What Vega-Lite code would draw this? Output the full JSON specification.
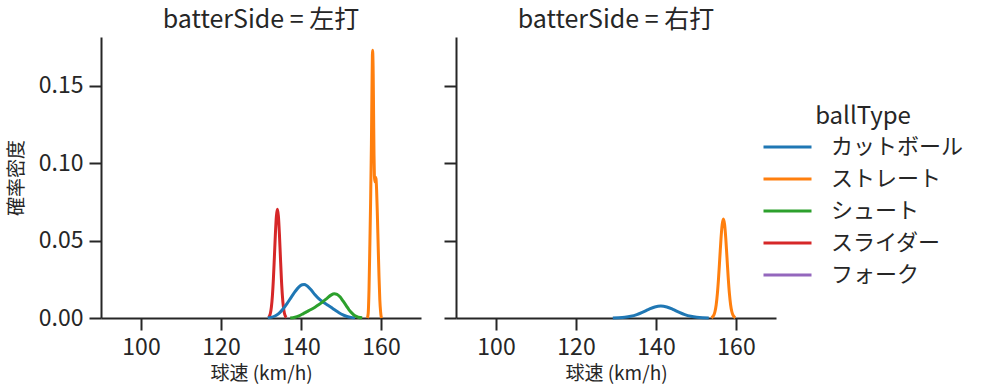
{
  "$schema": "https://vega.github.io/schema/vega-lite/v6.json",
  "padding": {"left": 7, "top": 8, "right": 5, "bottom": 5},
  "datasets": {
    "kde": [
      {"batterSide": "左打", "ballType": "スライダー", "speed": 131.85, "density": 0.0004},
      {"batterSide": "左打", "ballType": "スライダー", "speed": 132.1, "density": 0.0012},
      {"batterSide": "左打", "ballType": "スライダー", "speed": 132.35, "density": 0.0031},
      {"batterSide": "左打", "ballType": "スライダー", "speed": 132.6, "density": 0.0071},
      {"batterSide": "左打", "ballType": "スライダー", "speed": 132.85, "density": 0.0143},
      {"batterSide": "左打", "ballType": "スライダー", "speed": 133.1, "density": 0.0253},
      {"batterSide": "左打", "ballType": "スライダー", "speed": 133.35, "density": 0.0396},
      {"batterSide": "左打", "ballType": "スライダー", "speed": 133.6, "density": 0.0545},
      {"batterSide": "左打", "ballType": "スライダー", "speed": 133.85, "density": 0.0659},
      {"batterSide": "左打", "ballType": "スライダー", "speed": 134.1, "density": 0.0703},
      {"batterSide": "左打", "ballType": "スライダー", "speed": 134.35, "density": 0.0659},
      {"batterSide": "左打", "ballType": "スライダー", "speed": 134.6, "density": 0.0545},
      {"batterSide": "左打", "ballType": "スライダー", "speed": 134.85, "density": 0.0396},
      {"batterSide": "左打", "ballType": "スライダー", "speed": 135.1, "density": 0.0253},
      {"batterSide": "左打", "ballType": "スライダー", "speed": 135.35, "density": 0.0143},
      {"batterSide": "左打", "ballType": "スライダー", "speed": 135.6, "density": 0.0071},
      {"batterSide": "左打", "ballType": "スライダー", "speed": 135.85, "density": 0.0031},
      {"batterSide": "左打", "ballType": "スライダー", "speed": 136.1, "density": 0.0012},
      {"batterSide": "左打", "ballType": "スライダー", "speed": 136.35, "density": 0.0004},

      {"batterSide": "左打", "ballType": "ストレート", "speed": 156.6, "density": 0.0},
      {"batterSide": "左打", "ballType": "ストレート", "speed": 156.8, "density": 0.003},
      {"batterSide": "左打", "ballType": "ストレート", "speed": 157.0, "density": 0.018},
      {"batterSide": "左打", "ballType": "ストレート", "speed": 157.2, "density": 0.045},
      {"batterSide": "左打", "ballType": "ストレート", "speed": 157.4, "density": 0.075},
      {"batterSide": "左打", "ballType": "ストレート", "speed": 157.6, "density": 0.112},
      {"batterSide": "左打", "ballType": "ストレート", "speed": 157.75, "density": 0.15},
      {"batterSide": "左打", "ballType": "ストレート", "speed": 157.85, "density": 0.17},
      {"batterSide": "左打", "ballType": "ストレート", "speed": 157.9, "density": 0.173},
      {"batterSide": "左打", "ballType": "ストレート", "speed": 157.95, "density": 0.171},
      {"batterSide": "左打", "ballType": "ストレート", "speed": 158.05, "density": 0.158},
      {"batterSide": "左打", "ballType": "ストレート", "speed": 158.15, "density": 0.132},
      {"batterSide": "左打", "ballType": "ストレート", "speed": 158.25, "density": 0.106},
      {"batterSide": "左打", "ballType": "ストレート", "speed": 158.35, "density": 0.092},
      {"batterSide": "左打", "ballType": "ストレート", "speed": 158.45, "density": 0.088},
      {"batterSide": "左打", "ballType": "ストレート", "speed": 158.55, "density": 0.089},
      {"batterSide": "左打", "ballType": "ストレート", "speed": 158.65, "density": 0.091},
      {"batterSide": "左打", "ballType": "ストレート", "speed": 158.75, "density": 0.09},
      {"batterSide": "左打", "ballType": "ストレート", "speed": 158.9, "density": 0.083},
      {"batterSide": "左打", "ballType": "ストレート", "speed": 159.1, "density": 0.066},
      {"batterSide": "左打", "ballType": "ストレート", "speed": 159.3, "density": 0.046},
      {"batterSide": "左打", "ballType": "ストレート", "speed": 159.5, "density": 0.027},
      {"batterSide": "左打", "ballType": "ストレート", "speed": 159.7, "density": 0.012},
      {"batterSide": "左打", "ballType": "ストレート", "speed": 159.9, "density": 0.004},
      {"batterSide": "左打", "ballType": "ストレート", "speed": 160.1, "density": 0.0},

      {"batterSide": "左打", "ballType": "カットボール", "speed": 131.7, "density": 0.0001},
      {"batterSide": "左打", "ballType": "カットボール", "speed": 132.5, "density": 0.0004},
      {"batterSide": "左打", "ballType": "カットボール", "speed": 133.5, "density": 0.0013},
      {"batterSide": "左打", "ballType": "カットボール", "speed": 134.5, "density": 0.003},
      {"batterSide": "左打", "ballType": "カットボール", "speed": 135.5, "density": 0.0058},
      {"batterSide": "左打", "ballType": "カットボール", "speed": 136.5, "density": 0.0093},
      {"batterSide": "左打", "ballType": "カットボール", "speed": 137.5, "density": 0.0132},
      {"batterSide": "左打", "ballType": "カットボール", "speed": 138.5, "density": 0.017},
      {"batterSide": "左打", "ballType": "カットボール", "speed": 139.5, "density": 0.0201},
      {"batterSide": "左打", "ballType": "カットボール", "speed": 140.3, "density": 0.0215},
      {"batterSide": "左打", "ballType": "カットボール", "speed": 140.8, "density": 0.0217},
      {"batterSide": "左打", "ballType": "カットボール", "speed": 141.5, "density": 0.0208},
      {"batterSide": "左打", "ballType": "カットボール", "speed": 142.5, "density": 0.0182},
      {"batterSide": "左打", "ballType": "カットボール", "speed": 143.5, "density": 0.015},
      {"batterSide": "左打", "ballType": "カットボール", "speed": 144.5, "density": 0.0123},
      {"batterSide": "左打", "ballType": "カットボール", "speed": 145.5, "density": 0.0103},
      {"batterSide": "左打", "ballType": "カットボール", "speed": 146.5, "density": 0.0086},
      {"batterSide": "左打", "ballType": "カットボール", "speed": 147.5, "density": 0.0069},
      {"batterSide": "左打", "ballType": "カットボール", "speed": 148.5, "density": 0.0051},
      {"batterSide": "左打", "ballType": "カットボール", "speed": 149.5, "density": 0.0034},
      {"batterSide": "左打", "ballType": "カットボール", "speed": 150.5, "density": 0.002},
      {"batterSide": "左打", "ballType": "カットボール", "speed": 151.5, "density": 0.001},
      {"batterSide": "左打", "ballType": "カットボール", "speed": 152.5, "density": 0.0004},
      {"batterSide": "左打", "ballType": "カットボール", "speed": 153.5, "density": 0.0001},

      {"batterSide": "左打", "ballType": "シュート", "speed": 137.3, "density": 0.0},
      {"batterSide": "左打", "ballType": "シュート", "speed": 138.5, "density": 0.0005},
      {"batterSide": "左打", "ballType": "シュート", "speed": 139.5, "density": 0.0014},
      {"batterSide": "左打", "ballType": "シュート", "speed": 140.5, "density": 0.0027},
      {"batterSide": "左打", "ballType": "シュート", "speed": 141.5, "density": 0.0041},
      {"batterSide": "左打", "ballType": "シュート", "speed": 142.5, "density": 0.0055},
      {"batterSide": "左打", "ballType": "シュート", "speed": 143.5, "density": 0.007},
      {"batterSide": "左打", "ballType": "シュート", "speed": 144.5, "density": 0.0087},
      {"batterSide": "左打", "ballType": "シュート", "speed": 145.5, "density": 0.0106},
      {"batterSide": "左打", "ballType": "シュート", "speed": 146.5, "density": 0.0127},
      {"batterSide": "左打", "ballType": "シュート", "speed": 147.5, "density": 0.0148},
      {"batterSide": "左打", "ballType": "シュート", "speed": 148.3, "density": 0.0157},
      {"batterSide": "左打", "ballType": "シュート", "speed": 149.0, "density": 0.0153},
      {"batterSide": "左打", "ballType": "シュート", "speed": 149.8, "density": 0.0135},
      {"batterSide": "左打", "ballType": "シュート", "speed": 150.5, "density": 0.011},
      {"batterSide": "左打", "ballType": "シュート", "speed": 151.3, "density": 0.008},
      {"batterSide": "左打", "ballType": "シュート", "speed": 152.0, "density": 0.0053},
      {"batterSide": "左打", "ballType": "シュート", "speed": 152.8, "density": 0.003},
      {"batterSide": "左打", "ballType": "シュート", "speed": 153.5, "density": 0.0014},
      {"batterSide": "左打", "ballType": "シュート", "speed": 154.3, "density": 0.0005},
      {"batterSide": "左打", "ballType": "シュート", "speed": 155.3, "density": 0.0001},

      {"batterSide": "右打", "ballType": "カットボール", "speed": 129.2, "density": 0.00005},
      {"batterSide": "右打", "ballType": "カットボール", "speed": 130.7, "density": 0.00017},
      {"batterSide": "右打", "ballType": "カットボール", "speed": 132.2, "density": 0.00047},
      {"batterSide": "右打", "ballType": "カットボール", "speed": 133.7, "density": 0.0011},
      {"batterSide": "右打", "ballType": "カットボール", "speed": 135.2, "density": 0.00221},
      {"batterSide": "右打", "ballType": "カットボール", "speed": 136.7, "density": 0.00382},
      {"batterSide": "右打", "ballType": "カットボール", "speed": 138.2, "density": 0.00564},
      {"batterSide": "右打", "ballType": "カットボール", "speed": 139.7, "density": 0.00712},
      {"batterSide": "右打", "ballType": "カットボール", "speed": 141.2, "density": 0.0077},
      {"batterSide": "右打", "ballType": "カットボール", "speed": 142.7, "density": 0.00712},
      {"batterSide": "右打", "ballType": "カットボール", "speed": 144.2, "density": 0.00564},
      {"batterSide": "右打", "ballType": "カットボール", "speed": 145.7, "density": 0.00382},
      {"batterSide": "右打", "ballType": "カットボール", "speed": 147.2, "density": 0.00221},
      {"batterSide": "右打", "ballType": "カットボール", "speed": 148.7, "density": 0.0011},
      {"batterSide": "右打", "ballType": "カットボール", "speed": 150.2, "density": 0.00047},
      {"batterSide": "右打", "ballType": "カットボール", "speed": 151.7, "density": 0.00017},
      {"batterSide": "右打", "ballType": "カットボール", "speed": 153.2, "density": 0.00005},

      {"batterSide": "右打", "ballType": "ストレート", "speed": 153.85, "density": 0.0002},
      {"batterSide": "右打", "ballType": "ストレート", "speed": 154.15, "density": 0.0007},
      {"batterSide": "右打", "ballType": "ストレート", "speed": 154.45, "density": 0.0018},
      {"batterSide": "右打", "ballType": "ストレート", "speed": 154.75, "density": 0.0042},
      {"batterSide": "右打", "ballType": "ストレート", "speed": 155.05, "density": 0.0086},
      {"batterSide": "右打", "ballType": "ストレート", "speed": 155.35, "density": 0.0159},
      {"batterSide": "右打", "ballType": "ストレート", "speed": 155.65, "density": 0.0263},
      {"batterSide": "右打", "ballType": "ストレート", "speed": 155.95, "density": 0.0388},
      {"batterSide": "右打", "ballType": "ストレート", "speed": 156.25, "density": 0.0513},
      {"batterSide": "右打", "ballType": "ストレート", "speed": 156.55, "density": 0.0605},
      {"batterSide": "右打", "ballType": "ストレート", "speed": 156.85, "density": 0.064},
      {"batterSide": "右打", "ballType": "ストレート", "speed": 157.15, "density": 0.0605},
      {"batterSide": "右打", "ballType": "ストレート", "speed": 157.45, "density": 0.0513},
      {"batterSide": "右打", "ballType": "ストレート", "speed": 157.75, "density": 0.0388},
      {"batterSide": "右打", "ballType": "ストレート", "speed": 158.05, "density": 0.0263},
      {"batterSide": "右打", "ballType": "ストレート", "speed": 158.35, "density": 0.0159},
      {"batterSide": "右打", "ballType": "ストレート", "speed": 158.65, "density": 0.0086},
      {"batterSide": "右打", "ballType": "ストレート", "speed": 158.95, "density": 0.0042},
      {"batterSide": "右打", "ballType": "ストレート", "speed": 159.25, "density": 0.0018},
      {"batterSide": "右打", "ballType": "ストレート", "speed": 159.55, "density": 0.0007},
      {"batterSide": "右打", "ballType": "ストレート", "speed": 159.85, "density": 0.0002}
    ]
  },
  "hconcat": [
    {
      "width": 320,
      "height": 281,
      "title": "batterSide = 左打",
      "data": {"name": "kde"},
      "transform": [{"filter": "datum.batterSide === '左打'"}],
      "mark": {"type": "line", "strokeWidth": 3, "interpolate": "monotone"},
      "encoding": {
        "x": {"field": "speed", "type": "quantitative", "title": "球速 (km/h)",
              "scale": {"domain": [90, 170], "nice": false, "zero": false},
              "axis": {"values": [100, 120, 140, 160]}},
        "y": {"field": "density", "type": "quantitative", "title": "確率密度",
              "scale": {"domain": [0, 0.1816], "nice": false},
              "axis": {"values": [0, 0.05, 0.1, 0.15], "format": ".2f"}},
        "color": {"field": "ballType", "type": "nominal",
                  "scale": {"domain": ["カットボール", "ストレート", "シュート", "スライダー", "フォーク"],
                            "range": ["#1f77b4", "#ff7f0e", "#2ca02c", "#d62728", "#9467bd"]}}
      }
    },
    {
      "width": 320,
      "height": 281,
      "title": "batterSide = 右打",
      "data": {"name": "kde"},
      "transform": [{"filter": "datum.batterSide === '右打'"}],
      "mark": {"type": "line", "strokeWidth": 3, "interpolate": "monotone"},
      "encoding": {
        "x": {"field": "speed", "type": "quantitative", "title": "球速 (km/h)",
              "scale": {"domain": [90, 170], "nice": false, "zero": false},
              "axis": {"values": [100, 120, 140, 160]}},
        "y": {"field": "density", "type": "quantitative", "title": null,
              "scale": {"domain": [0, 0.1816], "nice": false},
              "axis": {"values": [0, 0.05, 0.1, 0.15], "labels": false, "minExtent": 0, "title": null}},
        "color": {"field": "ballType", "type": "nominal",
                  "scale": {"domain": ["カットボール", "ストレート", "シュート", "スライダー", "フォーク"],
                            "range": ["#1f77b4", "#ff7f0e", "#2ca02c", "#d62728", "#9467bd"]}}
      }
    }
  ],
  "spacing": 22,
  "resolve": {"scale": {"color": "shared"}},
  "config": {
    "font": "Noto Sans CJK JP",
    "view": {"stroke": null},
    "axis": {
      "grid": false,
      "domainColor": "#262626",
      "domainWidth": 2,
      "tickColor": "#262626",
      "tickWidth": 2,
      "tickSize": 12,
      "labelFontSize": 23,
      "labelColor": "#262626",
      "labelPadding": 6,
      "labelFlush": false,
      "titleFontSize": 19,
      "titleFontWeight": "normal",
      "titleColor": "#262626"
    },
    "axisX": {"titlePadding": 5},
    "axisY": {"titlePadding": 12},
    "title": {"fontSize": 25, "fontWeight": "normal", "color": "#262626", "offset": 4},
    "legend": {
      "orient": "none",
      "legendX": 661,
      "legendY": 68,
      "titleFontSize": 24,
      "titleFontWeight": "normal",
      "titleColor": "#262626",
      "titleAnchor": "middle",
      "titleAlign": "center",
      "titlePadding": 3,
      "labelFontSize": 22,
      "labelColor": "#262626",
      "labelOffset": 18,
      "symbolType": "stroke",
      "symbolSize": 2304,
      "symbolStrokeWidth": 3,
      "clipHeight": 30,
      "rowPadding": 2
    }
  }
}
